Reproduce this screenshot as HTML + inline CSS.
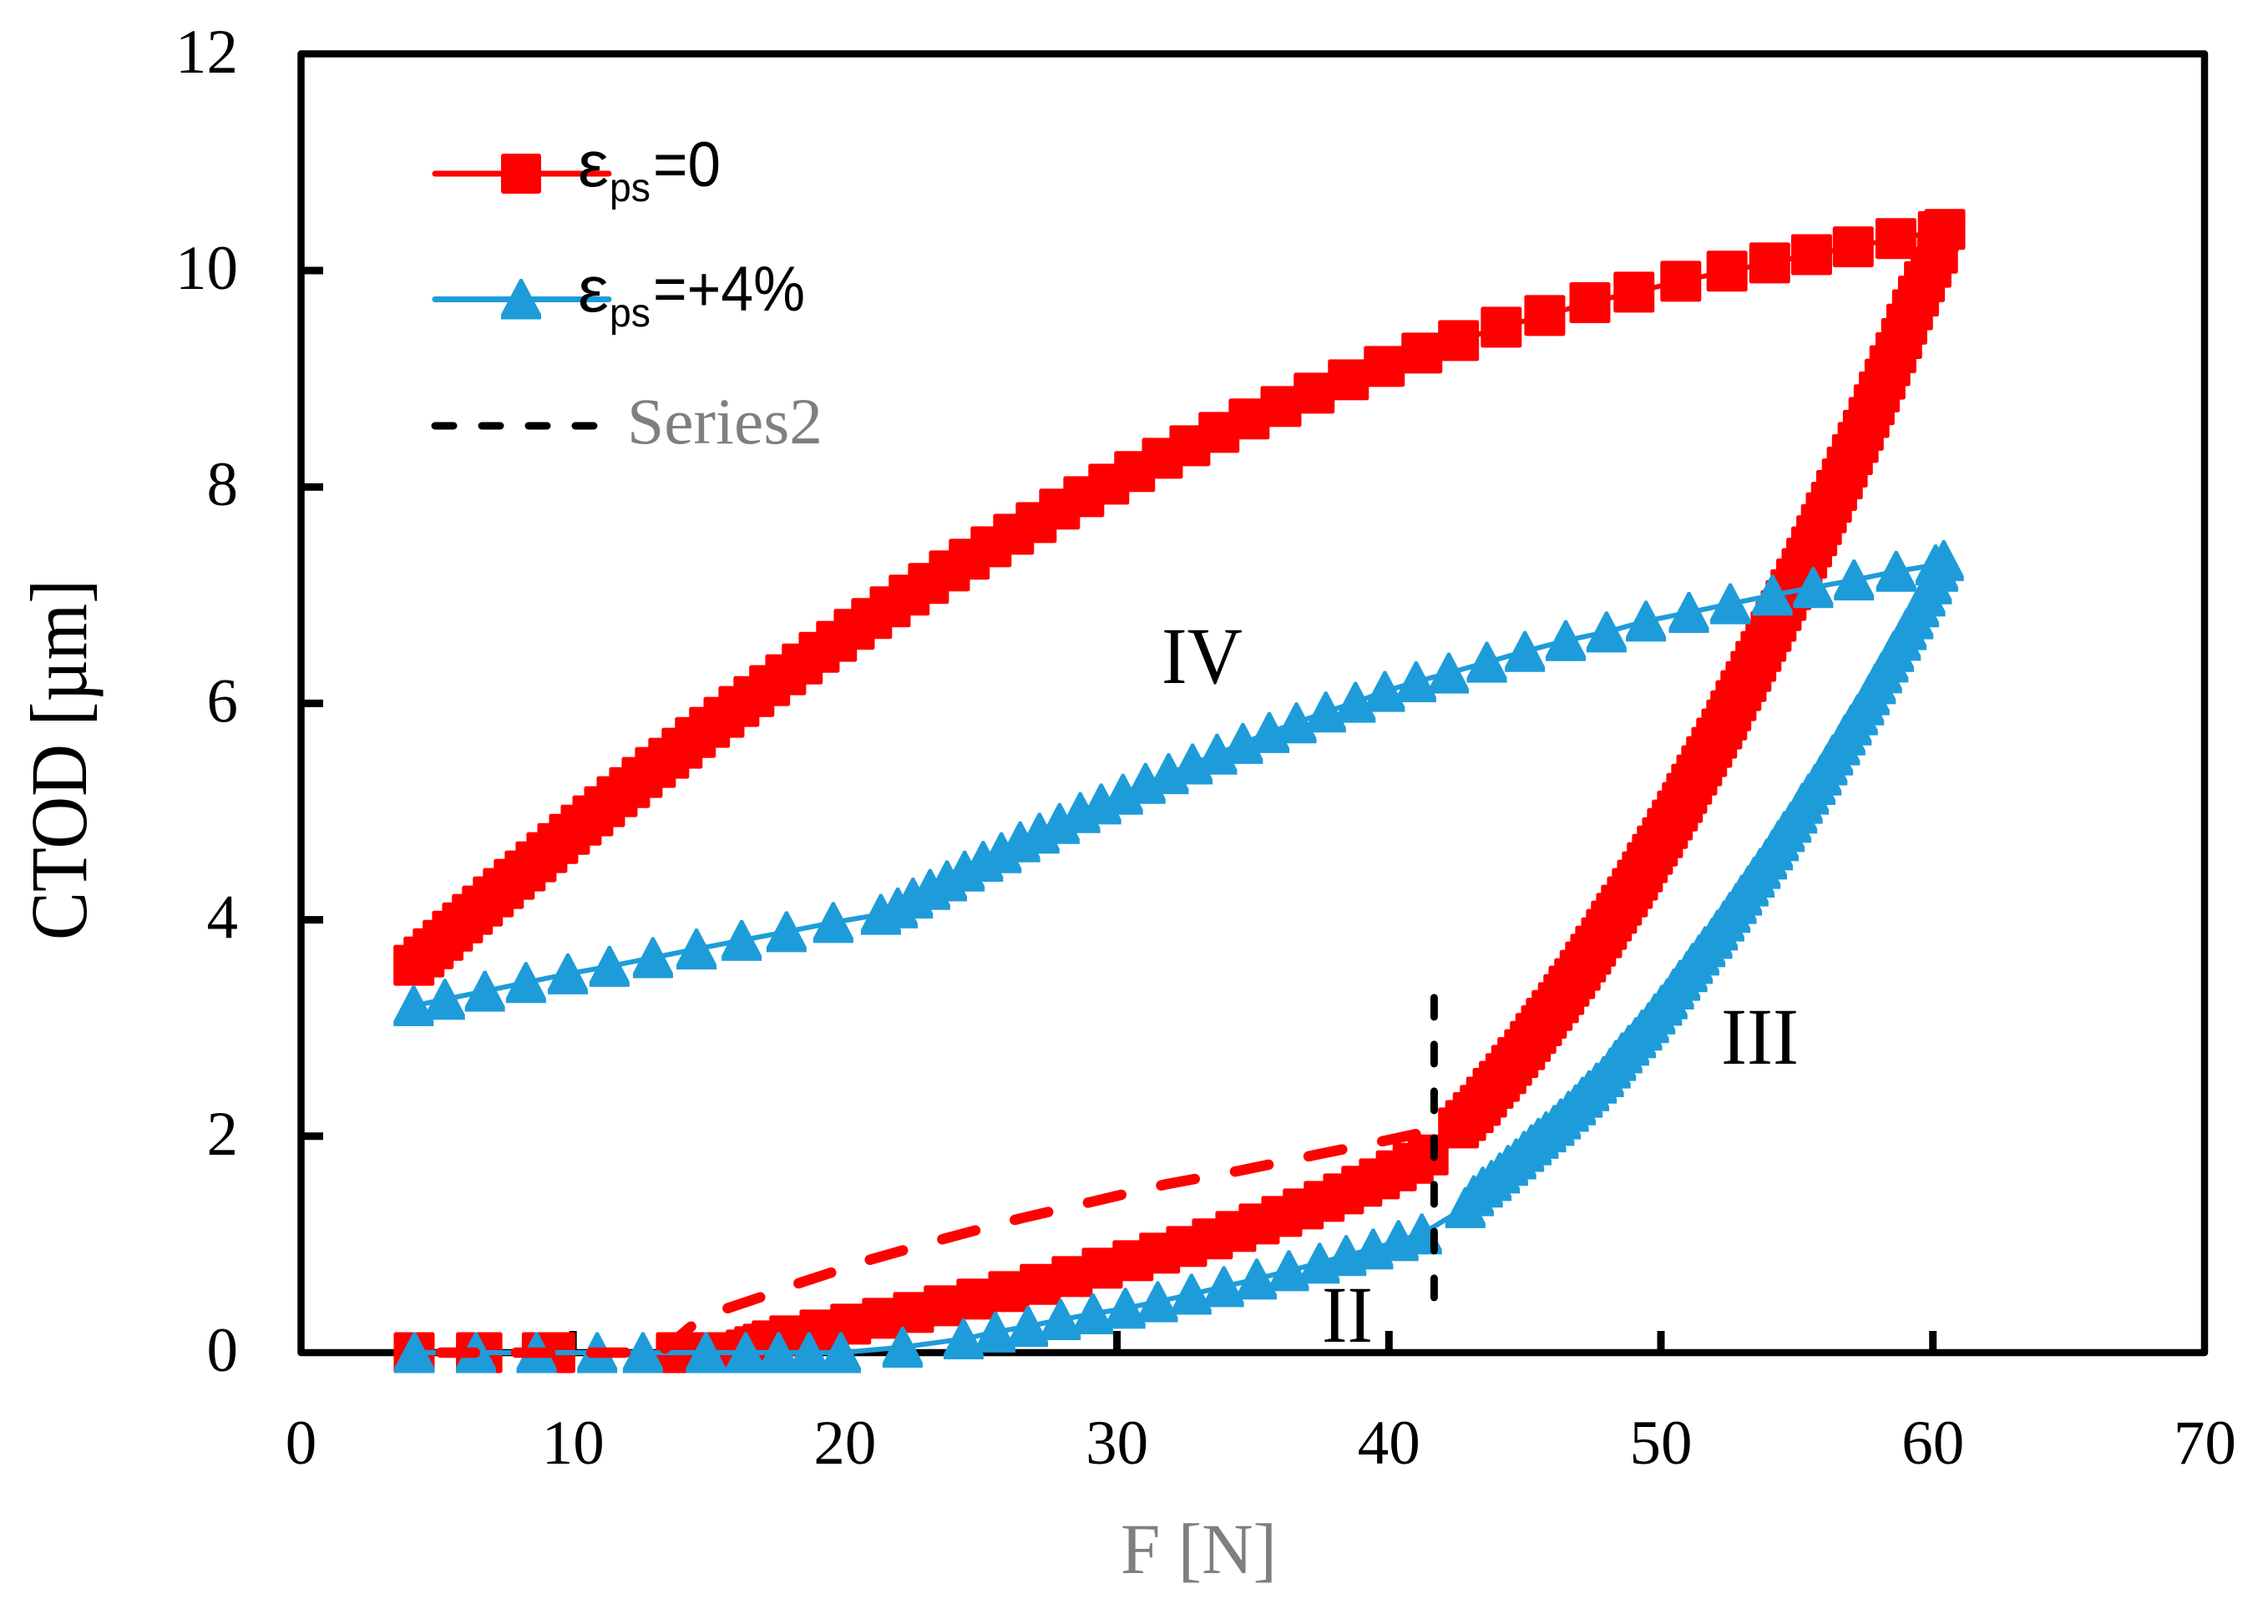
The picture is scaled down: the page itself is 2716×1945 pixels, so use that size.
<!DOCTYPE html>
<html lang="en">
<head>
<meta charset="utf-8">
<title>CTOD vs F chart</title>
<style>
html,body{margin:0;padding:0;background:#fff;}
svg{display:block;}
.tick{font-family:"Liberation Serif",serif;font-size:75px;fill:#000;}
.leg{font-family:"Liberation Sans",sans-serif;fill:#000;}
</style>
</head>
<body>
<svg id="chart" width="2716" height="1945" viewBox="0 0 2716 1945" xmlns="http://www.w3.org/2000/svg">
  <rect x="0" y="0" width="2716" height="1945" fill="#fff"/>
  <rect x="360.5" y="64.5" width="2279.5" height="1555.5" fill="none" stroke="#000" stroke-width="8.5" stroke-linejoin="round"/>
  <g id="ticks"></g>
  <g id="series"></g>
  <text x="1342" y="1884" font-family="'Liberation Serif',serif" font-size="86" fill="#7f7f7f" textLength="187" lengthAdjust="spacingAndGlyphs">F [N]</text>
  <text transform="translate(103,910) rotate(-90)" text-anchor="middle" font-family="'Liberation Serif',serif" font-size="96" fill="#000" textLength="432" lengthAdjust="spacingAndGlyphs">CTOD [µm]</text>
  <text x="1583" y="1607" font-family="'Liberation Serif',serif" font-size="96" fill="#000" textLength="61" lengthAdjust="spacingAndGlyphs">II</text>
  <text x="2061" y="1274" font-family="'Liberation Serif',serif" font-size="96" fill="#000" textLength="93" lengthAdjust="spacingAndGlyphs">III</text>
  <text x="1391" y="818" font-family="'Liberation Serif',serif" font-size="96" fill="#000" textLength="97" lengthAdjust="spacingAndGlyphs">IV</text>
  <g>
    <line x1="521" y1="208" x2="729" y2="208" stroke="#ff0000" stroke-width="7" stroke-linecap="round"/>
    <rect x="600" y="184" width="48" height="48" rx="3" fill="#ff0000"/>
    <text class="leg" x="692" y="223" font-size="78" textLength="37" lengthAdjust="spacingAndGlyphs">ε</text>
    <text class="leg" x="730" y="241" font-size="48" textLength="49" lengthAdjust="spacingAndGlyphs">ps</text>
    <text class="leg" x="782" y="223" font-size="76" textLength="81" lengthAdjust="spacingAndGlyphs">=0</text>
    <line x1="521" y1="358.5" x2="729" y2="358.5" stroke="#1e9cda" stroke-width="7" stroke-linecap="round"/>
    <path d="M622.5 334 L625.5 334 L648 376.5 L648 382.5 L600 382.5 L600 376.5 Z" fill="#1e9cda"/>
    <text class="leg" x="692" y="373" font-size="78" textLength="37" lengthAdjust="spacingAndGlyphs">ε</text>
    <text class="leg" x="730" y="391" font-size="48" textLength="49" lengthAdjust="spacingAndGlyphs">ps</text>
    <text class="leg" x="782" y="372" font-size="76" textLength="182" lengthAdjust="spacingAndGlyphs">=+4%</text>
    <line x1="521" y1="510" x2="713" y2="510" stroke="#000" stroke-width="9" stroke-linecap="round" stroke-dasharray="22 34"/>
    <text x="751" y="531" font-family="'Liberation Serif',serif" font-size="78" fill="#7f7f7f" textLength="234" lengthAdjust="spacingAndGlyphs">Series2</text>
  </g>
</svg>
<script>
const xTickValues=[0,10,20,30,40,50,60,70];
const yTickValues=[0,2,4,6,8,10,12];

const redLoadF=[4.16,6.45,6.65,8.87,9.33,13.8,14.3,14.8,15.4,15.9,16.37,16.68,16.99,17.32,17.97,19.08,20.21,21.38,22.52,23.65,24.85,26.02,27.18,28.35,29.46,30.59,31.57,32.56,33.51,34.37,35.23,36.06,36.85,37.62,38.33,39.0,39.65,40.27,40.89,41.44,42.56,42.82,43.1,43.36,43.59,43.83,44.06,44.3,44.51,44.74,44.99,45.2,45.4,45.61,45.79,46.0,46.23,46.43,46.62,46.83,47.03,47.23,47.42,47.6,47.82,48.0,48.18,48.37,48.55,48.77,48.95,49.14,49.32,49.5,49.69,49.87,50.06,50.24,50.42,50.61,50.79,50.95,51.13,51.32,51.5,51.68,51.87,52.05,52.24,52.42,52.57,52.76,52.94,53.13,53.31,53.49,53.68,53.86,54.05,54.23,54.42,54.6,54.78,54.99,55.19,55.36,55.54,55.73,55.9,56.08,56.27,56.46,56.67,56.85,57.04,57.25,57.44,57.65,57.84,58.03,58.24,58.42,58.64,58.85,59.04,59.25,59.47,59.69,59.93,60.17,60.44];
const redLoadC=[0,0,0,0,0,0,0,0,0,0,0.024,0.055,0.078,0.109,0.155,0.209,0.263,0.317,0.371,0.433,0.495,0.564,0.631,0.703,0.78,0.85,0.919,0.981,1.051,1.12,1.189,1.259,1.328,1.398,1.467,1.537,1.606,1.68,1.75,1.827,2.077,2.145,2.218,2.285,2.361,2.442,2.507,2.578,2.654,2.727,2.8,2.876,2.949,3.022,3.09,3.162,3.234,3.309,3.386,3.456,3.533,3.61,3.682,3.756,3.834,3.911,3.988,4.06,4.135,4.212,4.289,4.366,4.443,4.528,4.605,4.682,4.759,4.844,4.922,5.006,5.084,5.168,5.253,5.338,5.423,5.508,5.593,5.678,5.763,5.847,5.932,6.025,6.118,6.202,6.295,6.388,6.48,6.573,6.665,6.758,6.858,6.951,7.051,7.15,7.245,7.342,7.446,7.549,7.652,7.761,7.859,7.968,8.075,8.184,8.299,8.411,8.523,8.642,8.76,8.878,8.996,9.12,9.241,9.371,9.504,9.637,9.764,9.897,10.03,10.16,10.38];
const redUnloadF=[60.2,58.64,57.07,55.54,54.0,52.43,50.73,49.01,47.39,45.73,44.13,42.56,41.21,39.83,38.51,37.25,36.03,34.86,33.75,32.68,31.67,30.65,29.7,28.78,27.89,27.03,26.2,25.37,24.57,23.84,23.07,22.36,21.66,20.98,20.34,19.69,19.05,18.43,17.82,17.23,16.65,16.1,15.55,15.02,14.5,14.01,13.52,13.03,12.54,12.08,11.62,11.16,10.73,10.3,9.87,9.44,9.04,8.64,8.24,7.84,7.44,7.07,6.67,6.3,5.94,5.57,5.22,4.86,4.52,4.15];
const redUnloadC=[10.36,10.295,10.219,10.147,10.07,9.994,9.901,9.8,9.703,9.584,9.476,9.353,9.237,9.114,8.99,8.867,8.743,8.628,8.504,8.381,8.265,8.142,8.026,7.91,7.795,7.671,7.563,7.447,7.332,7.224,7.108,7.0,6.892,6.784,6.684,6.573,6.472,6.364,6.264,6.164,6.063,5.971,5.871,5.778,5.685,5.585,5.493,5.408,5.315,5.222,5.138,5.045,4.96,4.875,4.79,4.705,4.621,4.536,4.451,4.374,4.289,4.212,4.127,4.05,3.972,3.895,3.81,3.733,3.656,3.579];

const blueLoadF=[4.17,6.43,8.66,10.89,12.57,14.89,16.35,17.56,18.68,19.85,22.12,24.36,25.53,26.73,27.93,29.12,30.31,31.5,32.74,33.93,35.14,36.32,37.45,38.43,39.42,40.35,41.21,42.81,43.12,43.45,43.77,44.08,44.38,44.68,44.97,45.24,45.5,45.78,46.08,46.32,46.61,46.87,47.12,47.36,47.64,47.9,48.15,48.35,48.58,48.83,49.08,49.31,49.56,49.79,50.04,50.24,50.48,50.71,50.97,51.17,51.41,51.63,51.89,52.09,52.33,52.55,52.78,52.98,53.22,53.44,53.66,53.9,54.12,54.33,54.55,54.79,55.01,55.21,55.44,55.68,55.9,56.12,56.33,56.58,56.78,57.01,57.24,57.47,57.67,57.9,58.13,58.36,58.57,58.82,59.03,59.28,59.49,59.72,59.96,60.19,60.4];
const blueLoadC=[0,0,0,0,0,0,0,0,0,0,0.05,0.127,0.19,0.243,0.305,0.359,0.41,0.47,0.54,0.61,0.68,0.757,0.827,0.897,0.958,1.035,1.097,1.34,1.45,1.53,1.59,1.66,1.73,1.79,1.86,1.92,1.98,2.04,2.1,2.16,2.23,2.29,2.36,2.42,2.49,2.55,2.63,2.7,2.77,2.84,2.91,2.98,3.05,3.13,3.21,3.27,3.36,3.44,3.52,3.597,3.674,3.751,3.828,3.905,3.988,4.068,4.15,4.227,4.312,4.394,4.474,4.561,4.646,4.731,4.816,4.901,4.986,5.076,5.161,5.251,5.338,5.431,5.523,5.616,5.708,5.801,5.894,5.986,6.079,6.182,6.282,6.382,6.48,6.583,6.681,6.781,6.892,6.992,7.105,7.22,7.32];
const blueUnloadF=[60.1,58.65,57.1,55.6,54.1,52.55,51.03,49.45,48.0,46.5,45.0,43.6,42.2,41.0,39.85,38.77,37.68,36.6,35.6,34.63,33.68,32.78,31.9,31.05,30.22,29.42,28.65,27.89,27.15,26.44,25.75,25.08,24.4,23.75,23.13,22.5,21.94,21.32,19.57,17.85,16.2,14.54,12.94,11.34,9.81,8.27,6.76,5.29,4.14];
const blueUnloadC=[7.28,7.22,7.14,7.07,7.0,6.92,6.84,6.76,6.66,6.58,6.48,6.38,6.28,6.2,6.11,6.01,5.92,5.82,5.73,5.63,5.53,5.44,5.35,5.26,5.16,5.07,4.99,4.89,4.8,4.72,4.62,4.54,4.45,4.36,4.28,4.2,4.11,4.05,3.975,3.89,3.81,3.73,3.65,3.57,3.5,3.42,3.34,3.265,3.206];

const redDashF=[4.16,13.2,14.36,15.7,16.92,18.32,20.96,23.68,26.37,29.08,31.81,34.56,37.32,40.05,41.3];
const redDashC=[0,0,0.245,0.411,0.515,0.643,0.862,1.055,1.235,1.394,1.556,1.684,1.829,1.968,2.037];

const blackDashF=[41.66,41.66];
const blackDashC=[3.28,0.5];

const NS='http://www.w3.org/2000/svg';
const ticksLayer=document.getElementById('ticks');
const seriesLayer=document.getElementById('series');
function xScale(v){return 360.5+v*32.57;}
function yScale(v){return 1620-v*129.6;}
function pathFrom(fs,cs){
  return fs.map(function(f,i){return (i?'L':'M')+xScale(f).toFixed(1)+' '+yScale(cs[i]).toFixed(1);}).join(' ');
}

xTickValues.forEach(function(v){
  const label=document.createElementNS(NS,'text');
  
  
  label.setAttribute('class','tick');
  label.setAttribute('x',xScale(v));
  label.setAttribute('y',1753);
  label.setAttribute('text-anchor','middle');
  label.textContent=String(v);
  ticksLayer.appendChild(label);
  if(v>0&&v<70){
    const tick=document.createElementNS(NS,'line');
    
    
    tick.setAttribute('x1',xScale(v));
    tick.setAttribute('x2',xScale(v));
    tick.setAttribute('y1',1620);
    tick.setAttribute('y2',1594);
    tick.setAttribute('stroke','#000');
    tick.setAttribute('stroke-width',9);
    ticksLayer.appendChild(tick);
  }
});
yTickValues.forEach(function(v){
  const label=document.createElementNS(NS,'text');
  
  
  label.setAttribute('class','tick');
  label.setAttribute('x',285);
  label.setAttribute('y',yScale(v)+22);
  label.setAttribute('text-anchor','end');
  label.textContent=String(v);
  ticksLayer.appendChild(label);
  if(v>0&&v<12){
    const tick=document.createElementNS(NS,'line');
    
    
    tick.setAttribute('x1',360.5);
    tick.setAttribute('x2',387);
    tick.setAttribute('y1',yScale(v));
    tick.setAttribute('y2',yScale(v));
    tick.setAttribute('stroke','#000');
    tick.setAttribute('stroke-width',9);
    ticksLayer.appendChild(tick);
  }
});

const RED='#ff0000';
const BLUE='#1e9cda';

const redF=redLoadF.concat(redUnloadF);
const redC=redLoadC.concat(redUnloadC);
const redLine=document.createElementNS(NS,'path');


redLine.setAttribute('d',pathFrom(redF,redC));
redLine.setAttribute('fill','none');
redLine.setAttribute('stroke',RED);
redLine.setAttribute('stroke-width',6);
seriesLayer.appendChild(redLine);
redF.forEach(function(f,i){
  const s=document.createElementNS(NS,'rect');
  
  
  s.setAttribute('x',xScale(f)-24.5);
  s.setAttribute('y',yScale(redC[i])-24.5);
  s.setAttribute('width',49);
  s.setAttribute('height',49);
  s.setAttribute('rx',2.5);
  s.setAttribute('fill',RED);
  seriesLayer.appendChild(s);
});

const blueF=blueLoadF.concat(blueUnloadF);
const blueC=blueLoadC.concat(blueUnloadC);
const blueLine=document.createElementNS(NS,'path');


blueLine.setAttribute('d',pathFrom(blueF,blueC));
blueLine.setAttribute('fill','none');
blueLine.setAttribute('stroke',BLUE);
blueLine.setAttribute('stroke-width',6);
seriesLayer.appendChild(blueLine);
blueF.forEach(function(f,i){
  const cx=xScale(f);
  const cy=yScale(blueC[i]);
  const t=document.createElementNS(NS,'path');
  
  
  t.setAttribute('d','M'+(cx-1.5)+' '+(cy-24.5)+' L'+(cx+1.5)+' '+(cy-24.5)+' L'+(cx+24)+' '+(cy+18.5)+' L'+(cx+24)+' '+(cy+24.5)+' L'+(cx-24)+' '+(cy+24.5)+' L'+(cx-24)+' '+(cy+18.5)+' Z');
  t.setAttribute('fill',BLUE);
  seriesLayer.appendChild(t);
});

const redDash=document.createElementNS(NS,'path');


redDash.setAttribute('d',pathFrom(redDashF,redDashC));
redDash.setAttribute('fill','none');
redDash.setAttribute('stroke',RED);
redDash.setAttribute('stroke-width',12.5);
redDash.setAttribute('stroke-linecap','round');
redDash.setAttribute('stroke-dasharray','41 49');
redDash.setAttribute('stroke-dashoffset','58');
seriesLayer.appendChild(redDash);

const blackDash=document.createElementNS(NS,'path');


blackDash.setAttribute('d',pathFrom(blackDashF,blackDashC));
blackDash.setAttribute('fill','none');
blackDash.setAttribute('stroke','#000');
blackDash.setAttribute('stroke-width',9);
blackDash.setAttribute('stroke-linecap','round');
blackDash.setAttribute('stroke-dasharray','23 33');
seriesLayer.appendChild(blackDash);
</script>
</body>
</html>
